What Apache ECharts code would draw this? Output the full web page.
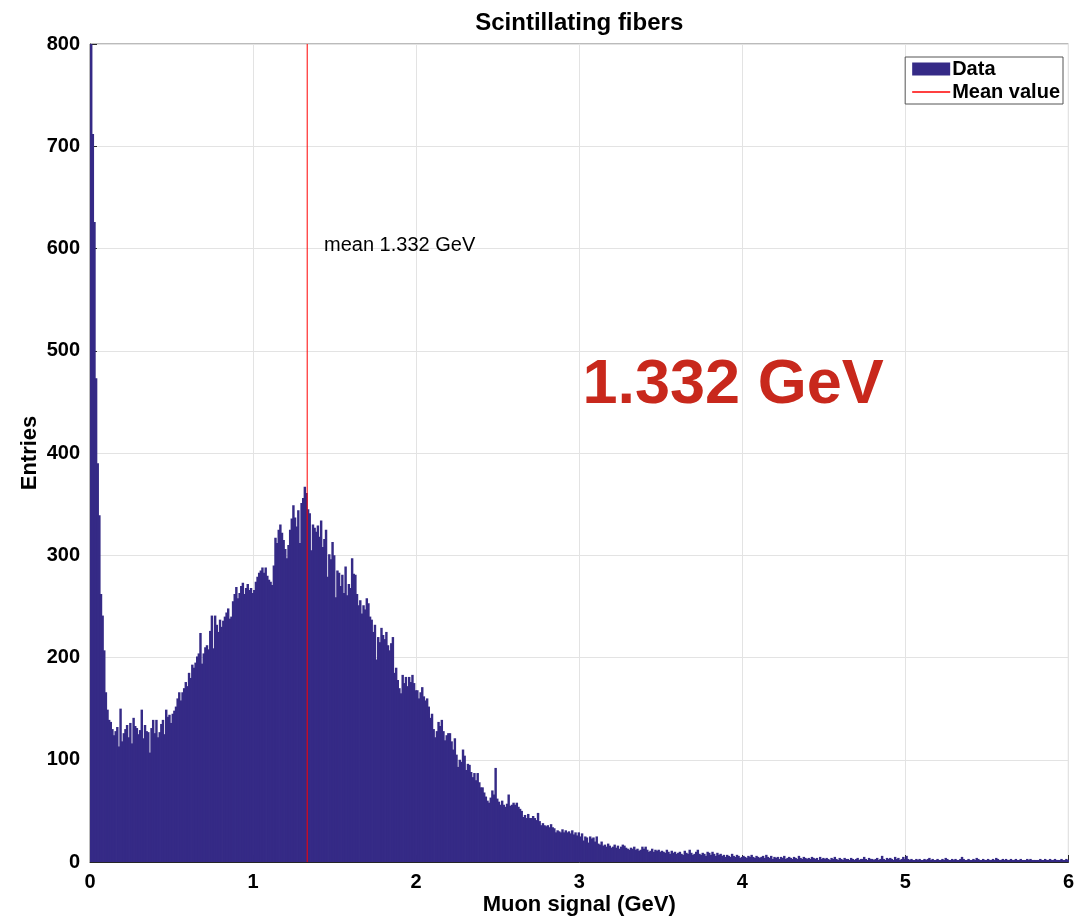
<!DOCTYPE html>
<html><head><meta charset="utf-8">
<script src="https://cdn.jsdelivr.net/npm/echarts@6/dist/echarts.min.js"></script>
<style>html,body{margin:0;padding:0;background:#fff}#c{width:1077px;height:916px}</style>
</head><body><div id="c"></div>
<script>
// Histogram: bin width 0.01 GeV, bins start at 0.00
const binStart = 0;
const binWidth = 0.01;
const counts = [
  850,712,626,473,390,339,262,241,207,166,
  149,139,137,130,124,128,132,113,150,118,
  126,130,134,122,136,116,141,133,131,125,
  129,149,121,134,128,127,107,131,139,126,
  139,122,127,135,139,125,149,142,144,136,
  145,148,152,160,166,158,166,170,176,172,
  185,180,193,190,195,201,204,224,194,204,
  210,212,208,226,241,209,241,232,225,237,
  230,236,240,244,248,238,240,255,262,269,
  258,263,270,273,262,268,272,266,268,263,
  266,274,279,283,285,288,283,288,280,276,
  274,271,290,317,312,325,330,322,315,306,
  297,310,325,336,349,337,328,344,312,351,
  356,367,361,345,341,305,330,327,323,329,
  318,334,308,316,325,279,301,296,313,300,
  259,285,283,270,281,263,289,261,272,268,
  297,282,281,262,251,256,243,251,247,258,
  253,240,237,225,232,198,220,215,229,222,
  218,225,212,207,214,220,185,190,178,170,
  165,183,175,181,172,181,176,183,175,168,
  168,160,166,171,162,158,160,152,141,145,
  130,122,128,137,133,139,128,119,124,126,
  126,118,110,121,105,93,100,98,110,104,
  90,96,95,88,83,87,80,87,78,73,
  73,68,64,60,58,63,70,66,92,62,
  59,56,60,56,54,57,66,55,56,58,
  56,58,54,52,50,44,46,43,47,43,
  43,45,43,41,48,40,36,38,36,35,
  36,34,37,34,33,29,31,30,29,32,
  29,31,29,30,28,31,27,29,26,29,
  25,28,21,25,24,19,25,23,24,20,
  25,18,17,20,16,17,15,18,16,14,
  15,17,14,16,13,15,17,16,14,13,
  12,14,13,15,12,13,11,12,15,13,
  15,12,10,11,13,10,12,11,12,10,
  11,10,9,12,10,8,11,9,10,8,
  9,10,8,7,11,9,8,12,9,7,
  8,10,12,8,7,9,8,6,10,9,
  7,10,8,6,9,7,8,6,7,5,
  7,6,5,8,6,5,7,6,4,5,
  6,5,4,6,5,7,5,4,6,5,
  4,5,6,4,7,5,4,6,3,5,
  4,5,3,5,4,6,3,4,5,4,
  3,5,4,3,6,4,3,5,4,3,
  4,3,5,4,3,4,2,5,3,4,
  3,4,3,2,4,3,5,3,2,4,
  3,2,4,3,3,2,4,3,2,3,
  4,2,3,3,5,3,2,4,3,3,
  2,3,4,2,3,6,3,2,4,3,
  4,3,2,5,3,4,2,3,5,3,
  6,3,2,3,2,2,3,2,3,2,
  2,3,2,3,4,2,3,2,2,3,
  2,2,3,2,4,3,2,2,3,2,
  3,2,2,3,5,3,2,2,3,2,
  2,3,2,4,3,2,2,3,2,2,
  3,2,2,3,2,4,3,2,2,3,
  2,3,2,2,3,2,2,3,2,2,
  3,2,2,2,3,2,3,2,2,2,
  2,2,3,2,2,3,2,2,3,2,
  2,3,2,2,2,3,2,2,3,2
];
const meanValue = 1.332;
const xMin = 0, xMax = 6, xStep = 1;
const yMin = 0, yMax = 800, yStep = 100;
const titleText = 'Scintillating fibers';
const xName = 'Muon signal (GeV)';
const yName = 'Entries';
const meanLabel = 'mean 1.332 GeV';
const bigLabel = '1.332 GeV';

const FONT = "'Liberation Sans', Arial, sans-serif";
const BAR = '#352a86';
const histData = counts.map((v, i) => [binStart + i * binWidth, v]);

const chart = echarts.init(document.getElementById('c'), null, {renderer: 'canvas'});
chart.setOption({
  animation: false,
  backgroundColor: '#fff',
  grid: {left: 90, right: 4, top: 44, bottom: 54, show: true, borderColor: '#777', borderWidth: 1, backgroundColor: 'transparent'},
  legend: {
    orient: 'vertical', right: 14, top: 57,
    itemWidth: 38, itemHeight: 13, itemGap: 3,
    padding: [2, 3, 2, 7],
    borderColor: '#555', borderWidth: 1, backgroundColor: '#fff',
    textStyle: {fontFamily: FONT, fontWeight: 'bold', fontSize: 20, color: '#000', padding: [0, 0, 0, -3]},
    data: [
      {name: 'Data', icon: 'rect'},
      {name: 'Mean value', icon: 'path://M0,0 L38,0 L38,1.3 L0,1.3 Z', itemStyle: {color: '#ff0000'}}
    ]
  },
  xAxis: {
    type: 'value', min: xMin, max: xMax, interval: xStep,
    axisLine: {show: true, lineStyle: {color: '#262626', width: 1}},
    axisTick: {show: true, inside: true, length: 7, lineStyle: {color: '#262626'}},
    axisLabel: {fontFamily: FONT, fontWeight: 'bold', fontSize: 20, color: '#000', margin: 10},
    splitLine: {show: true, lineStyle: {color: '#e3e3e3', width: 1}}
  },
  yAxis: {
    type: 'value', min: yMin, max: yMax, interval: yStep,
    axisLine: {show: true, lineStyle: {color: '#262626', width: 1}},
    axisTick: {show: true, inside: true, length: 7, lineStyle: {color: '#262626'}},
    axisLabel: {fontFamily: FONT, fontWeight: 'bold', fontSize: 20, color: '#000', margin: 10},
    splitLine: {show: true, lineStyle: {color: '#e3e3e3', width: 1}}
  },
  series: [
    {
      name: 'Data', type: 'custom', clip: true,
      itemStyle: {color: BAR},
      data: histData,
      encode: {x: 0, y: 1},
      renderItem: function (params, api) {
        const x0 = api.value(0), v = api.value(1);
        const p0 = api.coord([x0, 0]);
        const p1 = api.coord([x0 + binWidth, v]);
        return {
          type: 'rect',
          shape: {x: p0[0], y: p1[1], width: p1[0] - p0[0] + 0.8, height: p0[1] - p1[1]},
          style: {fill: BAR}
        };
      },
      z: 2
    },
    {
      name: 'Mean value', type: 'line', symbol: 'none',
      data: [[meanValue, yMin], [meanValue, yMax]],
      lineStyle: {color: '#ff0000', width: 1},
      itemStyle: {color: '#ff0000'},
      z: 3
    }
  ]
});

const pMean = chart.convertToPixel({gridIndex: 0}, [1.435, 603]);
const pBig = chart.convertToPixel({gridIndex: 0}, [3.02, 466]);
const pTitle = chart.convertToPixel({gridIndex: 0}, [3, 800]);
const pXName = chart.convertToPixel({gridIndex: 0}, [3, 0]);
const pYName = chart.convertToPixel({gridIndex: 0}, [0, 400]);
chart.setOption({
  graphic: [
    {type: 'text', x: pTitle[0], y: 23, style: {text: titleText, fontFamily: FONT, fontWeight: 'bold', fontSize: 24, fill: '#000', textAlign: 'center', textVerticalAlign: 'middle'}, z: 10},
    {type: 'text', x: pXName[0], y: 905, style: {text: xName, fontFamily: FONT, fontWeight: 'bold', fontSize: 22, fill: '#000', textAlign: 'center', textVerticalAlign: 'middle'}, z: 10},
    {type: 'text', x: 30, y: pYName[1], rotation: Math.PI / 2, style: {text: yName, fontFamily: FONT, fontWeight: 'bold', fontSize: 22, fill: '#000', textAlign: 'center', textVerticalAlign: 'middle'}, z: 10},
    {type: 'text', x: pMean[0], y: pMean[1], style: {text: meanLabel, fontFamily: FONT, fontSize: 20, fill: '#000', textVerticalAlign: 'middle'}, z: 10},
    {type: 'text', x: pBig[0], y: pBig[1], style: {text: bigLabel, fontFamily: FONT, fontWeight: 'bold', fontSize: 63, fill: '#c8281c', textVerticalAlign: 'middle'}, z: 10}
  ]
});
</script>
</body></html>
